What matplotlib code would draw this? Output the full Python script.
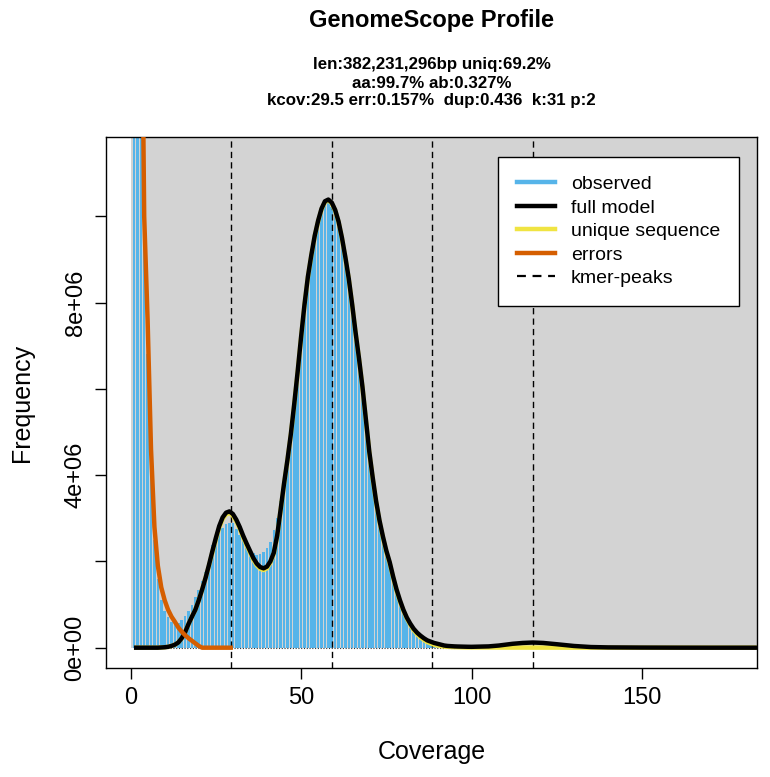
import matplotlib
matplotlib.use("Agg")
import matplotlib.pyplot as plt
from matplotlib.lines import Line2D
from matplotlib.patches import Rectangle

plt.rcParams['font.family'] = ['Liberation Sans', 'DejaVu Sans']

# --- dados (frequência em milhões) ---
obs_cov = list(range(1, 101))
obs_freq = [120, 45, 19, 10.5, 6.8, 4.0, 2.5, 1.6, 1.1, 0.85,
            0.7, 0.6, 0.56, 0.58, 0.64, 0.74, 0.86, 0.99, 1.17, 1.34,
            1.55, 1.76, 2.05, 2.38, 2.56, 2.67, 2.77, 2.86, 2.9, 2.88,
            2.76, 2.62, 2.5, 2.38, 2.26, 2.19, 2.15, 2.17, 2.22, 2.3,
            2.45, 2.72, 3.0, 3.4, 3.85, 4.35, 4.9, 5.55, 6.3, 7.1,
            7.85, 8.5, 9.0, 9.45, 9.8, 10.08, 10.25, 10.3, 10.22, 10.02,
            9.75, 9.4, 8.95, 8.45, 7.85, 7.2, 6.6, 5.95, 5.2, 4.45,
            3.9, 3.35, 2.9, 2.55, 2.2, 1.92, 1.6, 1.3, 1.05, 0.84,
            0.66, 0.52, 0.4, 0.31, 0.24, 0.18, 0.14, 0.11, 0.085, 0.07,
            0.055, 0.045, 0.04, 0.035, 0.03, 0.028, 0.026, 0.025, 0.024, 0.024]

model_cov = list(range(1, 101)) + [105, 108, 112, 115, 118, 121, 125, 130, 135, 140, 150, 160, 170, 190]
model_full = [0, 0, 0, 0, 0, 0, 0, 0, 0.005, 0.01,
              0.02, 0.04, 0.07, 0.12, 0.22, 0.36, 0.55, 0.72, 0.88, 1.1,
              1.35, 1.62, 1.92, 2.24, 2.54, 2.82, 3.02, 3.13, 3.16, 3.1,
              2.97, 2.8, 2.6, 2.42, 2.25, 2.08, 1.95, 1.87, 1.84, 1.88,
              2.0, 2.2, 2.6, 3.2, 3.8, 4.35, 4.95, 5.65, 6.4, 7.2,
              7.95, 8.6, 9.1, 9.55, 9.9, 10.18, 10.35, 10.39, 10.32, 10.15,
              9.88, 9.5, 9.05, 8.55, 7.95, 7.3, 6.7, 6.05, 5.3, 4.55,
              3.95, 3.4, 2.95, 2.58, 2.25, 1.98, 1.65, 1.35, 1.1, 0.88,
              0.7, 0.56, 0.44, 0.35, 0.28, 0.22, 0.17, 0.14, 0.11, 0.09,
              0.07, 0.05, 0.04, 0.035, 0.03, 0.027, 0.025, 0.023, 0.021, 0.02,
              0.03, 0.05, 0.09, 0.11, 0.12, 0.11, 0.08, 0.04, 0.015, 0.007, 0.003, 0.001, 0, 0]
model_unique = [0, 0, 0, 0, 0, 0, 0, 0, 0.005, 0.01,
                0.02, 0.04, 0.07, 0.12, 0.22, 0.36, 0.55, 0.72, 0.88, 1.1,
                1.35, 1.62, 1.9, 2.21, 2.5, 2.78, 2.98, 3.09, 3.12, 3.06,
                2.93, 2.76, 2.56, 2.38, 2.21, 2.04, 1.91, 1.83, 1.8, 1.84,
                1.97, 2.18, 2.58, 3.18, 3.78, 4.33, 4.93, 5.63, 6.38, 7.18,
                7.93, 8.58, 9.08, 9.53, 9.88, 10.16, 10.33, 10.37, 10.3, 10.13,
                9.86, 9.48, 9.03, 8.53, 7.93, 7.28, 6.68, 6.03, 5.28, 4.52,
                3.92, 3.37, 2.92, 2.55, 2.22, 1.95, 1.62, 1.32, 1.07, 0.86,
                0.68, 0.53, 0.41, 0.31, 0.24, 0.18, 0.13, 0.1, 0.07, 0.05,
                0.035, 0.025, 0.02, 0.015, 0.012, 0.01, 0.008, 0.006, 0.005, 0.005,
                0.004, 0.003, 0.002, 0.002, 0.001, 0.001, 0.001, 0, 0, 0, 0, 0, 0, 0]

err_cov = list(range(1, 31))
err_freq = [90, 40, 18, 10, 7.6, 4.6, 2.8, 1.9, 1.4, 1.1,
            0.88, 0.72, 0.6, 0.47, 0.37, 0.29, 0.22, 0.16, 0.1, 0.04,
            0, 0, 0, 0, 0, 0, 0, 0, 0, 0]

kmer_peaks = [29.5, 59, 88.5, 118]

titulo = "GenomeScope Profile"
subtitulo = ["len:382,231,296bp uniq:69.2%",
             "aa:99.7% ab:0.327%",
             "kcov:29.5 err:0.157%  dup:0.436  k:31 p:2"]
yticks = [0, 2, 4, 6, 8, 10]
ytick_labels = ["0e+00", "", "4e+06", "", "8e+06", ""]
xticks = [0, 50, 100, 150]

# --- figura ---
fig = plt.figure(figsize=(7.7, 7.77), dpi=100)
ax = fig.add_axes([106 / 770, 109 / 777, 651 / 770, 531 / 777])
ax.set_xlim(-7.2, 183.7)
ax.set_ylim(-0.471, 11.84)

ax.add_patch(Rectangle((0, 0), 400, 100, facecolor="#D3D3D3", edgecolor="none", zorder=0))
ax.bar(obs_cov, obs_freq, width=0.75, color="#56B4E9", linewidth=0, zorder=1)
ax.plot([1, 95], [0, 0], color="#333333", lw=0.8, ls=(0, (1, 1.5)), zorder=1.5)
for p in kmer_peaks:
    ax.axvline(p, color="black", lw=1.0, ls=(0, (4.5, 3)), zorder=2)
ax.plot(model_cov, model_unique, color="#F0E442", lw=3.2, zorder=3, solid_capstyle="butt")
ax.plot(model_cov, model_full, color="black", lw=3.2, zorder=4, solid_capstyle="butt")
ax.plot(err_cov, err_freq, color="#D55E00", lw=3.2, zorder=5, solid_capstyle="butt")

for s in ax.spines.values():
    s.set_linewidth(1.0)
ax.set_xticks(xticks)
ax.set_xticklabels([str(t) for t in xticks], fontsize=17)
ax.set_yticks(yticks)
ax.set_yticklabels(ytick_labels, fontsize=17, rotation=90, va="center")
ax.tick_params(direction="out", length=8, width=1.0, pad=6)

ax.set_xlabel("Coverage", fontsize=18, labelpad=22)
ax.set_ylabel("Frequency", fontsize=18, labelpad=22)

fig.text(431.5 / 770, 1 - 21 / 777, titulo, ha="center", va="center", fontsize=17, fontweight="bold")
for i, linha in enumerate(subtitulo):
    fig.text(431.5 / 770, 1 - (65 + 18 * i) / 777, linha, ha="center", va="center",
             fontsize=12.2, fontweight="bold")

handles = [Line2D([], [], color="#56B4E9", lw=3.2),
           Line2D([], [], color="black", lw=3.2),
           Line2D([], [], color="#F0E442", lw=3.2),
           Line2D([], [], color="#D55E00", lw=3.2),
           Line2D([], [], color="black", lw=1.6, ls=(0, (4, 3)))]
nomes = ["observed", "full model", "unique sequence", "errors", "kmer-peaks"]
leg = ax.legend(handles, nomes, loc="upper right", bbox_to_anchor=(0.972, 0.962),
                borderaxespad=0, fontsize=14, frameon=True, fancybox=False,
                handlelength=2.0, handletextpad=0.8, labelspacing=0.3, borderpad=0.95)
leg.get_frame().set_edgecolor("black")
leg.get_frame().set_linewidth(1.0)
leg.get_frame().set_alpha(1)
leg.set_zorder(10)

fig.savefig("out.png", dpi=100)
